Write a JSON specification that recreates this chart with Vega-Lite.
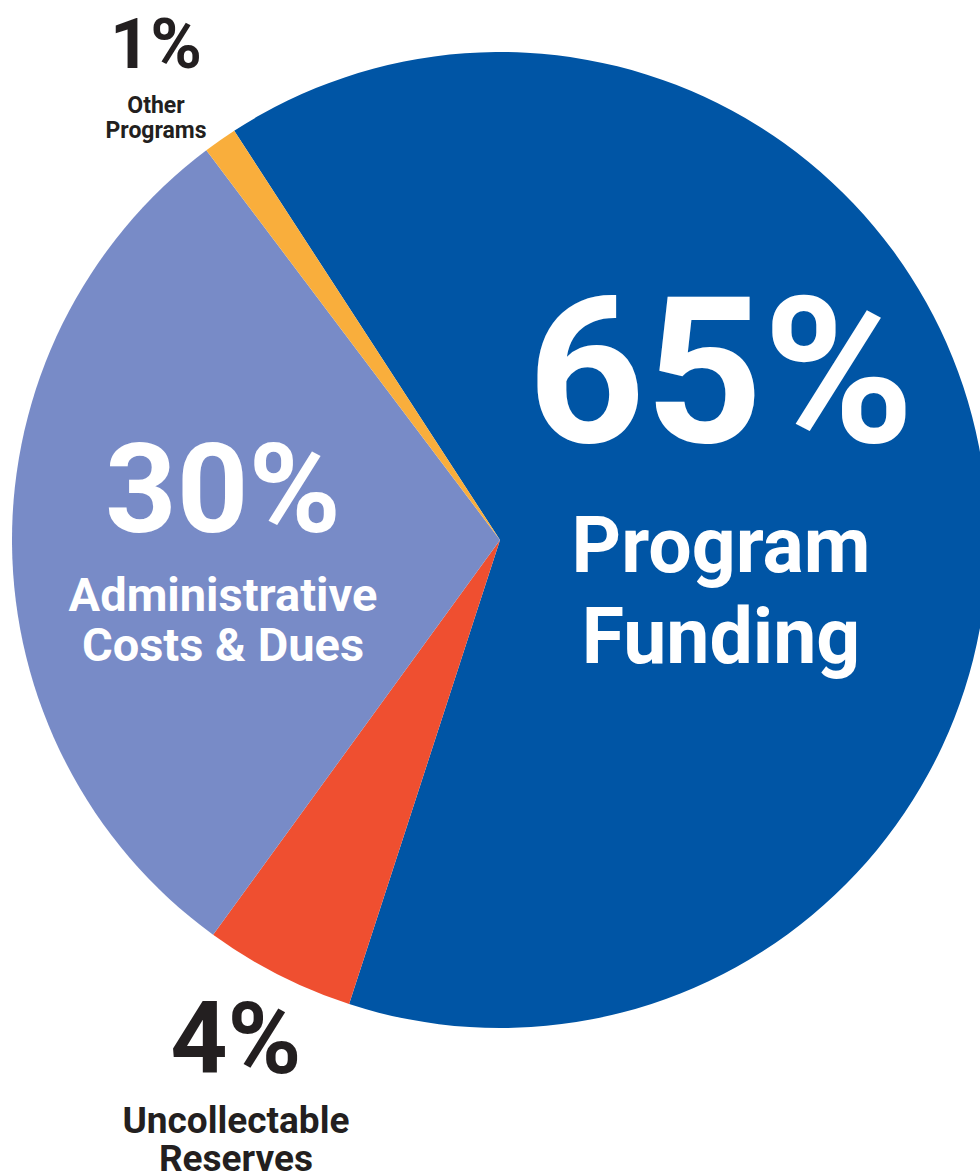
{
  "$schema": "https://vega.github.io/schema/vega-lite/v6.json",
  "width": 960,
  "height": 1080,
  "autosize": "none",
  "padding": {"left": 20, "top": 0, "right": 0, "bottom": 95},
  "background": "white",
  "config": {"view": {"stroke": null}},
  "data": {"values": [
    {"name": "Program Funding", "pct": "65%", "label": "Program\nFunding", "share": 64.17, "rank": 1},
    {"name": "Uncollectable Reserves", "pct": "4%", "label": "Uncollectable\nReserves", "share": 5.0, "rank": 2},
    {"name": "Administrative Costs & Dues", "pct": "30%", "label": "Administrative\nCosts & Dues", "share": 29.72, "rank": 3},
    {"name": "Other Programs", "pct": "1%", "label": "Other\nPrograms", "share": 1.11, "rank": 4}
  ]},
  "encoding": {
    "theta": {"field": "share", "type": "quantitative", "stack": true, "scale": {"range": [5.7072, 11.9904]}},
    "order": {"field": "rank", "type": "quantitative"},
    "detail": {"field": "name", "type": "nominal"}
  },
  "layer": [
    {
      "mark": {"type": "arc", "outerRadius": 488, "stroke": null},
      "encoding": {
        "color": {"field": "name", "type": "nominal", "legend": null,
          "scale": {"domain": ["Program Funding", "Uncollectable Reserves", "Administrative Costs & Dues", "Other Programs"],
                    "range": ["#0055A5", "#EF4F30", "#788BC7", "#F9AE3C"]}}
      }
    },
    {
      "mark": {"type": "text", "radius": 222.9, "dy": -69, "fontSize": 205, "font": "Roboto", "fontWeight": "bold", "align": "center", "baseline": "alphabetic", "color": "#ffffff"},
      "encoding": {"text": {"condition": {"test": "datum.name === 'Program Funding'", "field": "pct"}, "value": ""}}
    },
    {
      "mark": {"type": "text", "radius": 222.9, "dy": 61, "fontSize": 77, "lineHeight": 91, "lineBreak": "\n", "font": "Roboto", "fontWeight": "bold", "align": "center", "baseline": "alphabetic", "color": "#ffffff"},
      "encoding": {"text": {"condition": {"test": "datum.name === 'Program Funding'", "field": "label"}, "value": ""}}
    },
    {
      "mark": {"type": "text", "radius": 277, "dy": -10, "fontSize": 125, "font": "Roboto", "fontWeight": "bold", "align": "center", "baseline": "alphabetic", "color": "#ffffff"},
      "encoding": {"text": {"condition": {"test": "datum.name === 'Administrative Costs & Dues'", "field": "pct"}, "value": ""}}
    },
    {
      "mark": {"type": "text", "radius": 277, "dy": 69, "fontSize": 47, "lineHeight": 50, "lineBreak": "\n", "font": "Roboto", "fontWeight": "bold", "align": "center", "baseline": "alphabetic", "color": "#ffffff"},
      "encoding": {"text": {"condition": {"test": "datum.name === 'Administrative Costs & Dues'", "field": "label"}, "value": ""}}
    },
    {
      "mark": {"type": "text", "radius": 581.5, "dy": 15, "fontSize": 100, "font": "Roboto", "fontWeight": "bold", "align": "center", "baseline": "alphabetic", "color": "#231F20"},
      "encoding": {"text": {"condition": {"test": "datum.name === 'Uncollectable Reserves'", "field": "pct"}, "value": ""}}
    },
    {
      "mark": {"type": "text", "radius": 581.5, "dy": 75, "fontSize": 37, "lineHeight": 38, "lineBreak": "\n", "font": "Roboto", "fontWeight": "bold", "align": "center", "baseline": "alphabetic", "color": "#231F20"},
      "encoding": {"text": {"condition": {"test": "datum.name === 'Uncollectable Reserves'", "field": "label"}, "value": ""}}
    },
    {
      "mark": {"type": "text", "radius": 599.7, "dy": 19, "fontSize": 70, "font": "Roboto", "fontWeight": "bold", "align": "center", "baseline": "alphabetic", "color": "#231F20"},
      "encoding": {"text": {"condition": {"test": "datum.name === 'Other Programs'", "field": "pct"}, "value": ""}}
    },
    {
      "mark": {"type": "text", "radius": 599.7, "dy": 64, "fontSize": 23, "lineHeight": 25, "lineBreak": "\n", "font": "Roboto", "fontWeight": "bold", "align": "center", "baseline": "alphabetic", "color": "#231F20"},
      "encoding": {"text": {"condition": {"test": "datum.name === 'Other Programs'", "field": "label"}, "value": ""}}
    }
  ]
}
